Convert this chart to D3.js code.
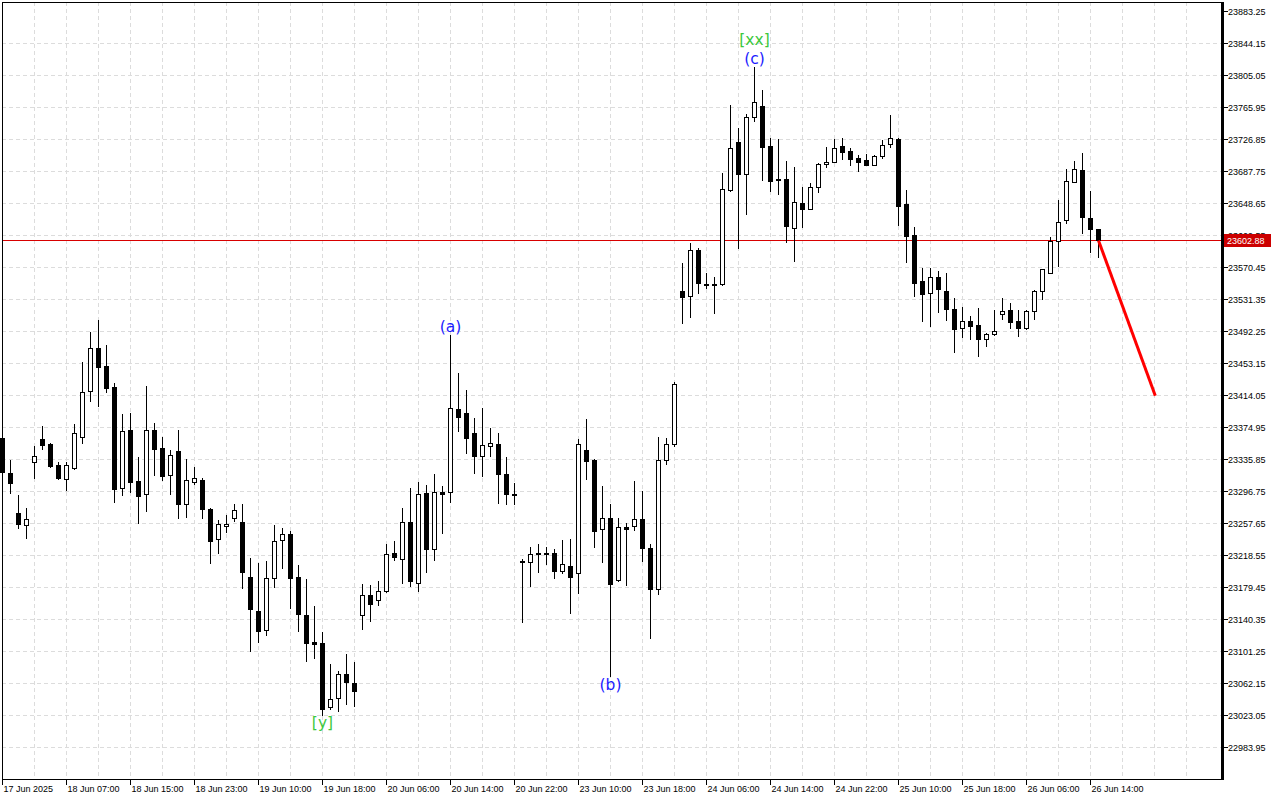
<!DOCTYPE html>
<html><head><meta charset="utf-8">
<script src="https://cdn.jsdelivr.net/npm/d3@7"></script>
<style>body{margin:0;background:#fff;} svg{display:block;}</style>
</head><body><svg id="c" width="1280" height="800"></svg>
<script>
const opens=[23361.5,23318.7,23269.9,23255.3,23332.1,23360.2,23354.2,23328.5,23311.4,23324.8,23362.7,23418.9,23471.4,23449.3,23423.8,23300.4,23371.2,23308.9,23293.0,23371.2,23349.2,23316.2,23345.6,23280.9,23307.7,23310.2,23274.8,23238.2,23254.1,23263.8,23258.9,23192.2,23150.2,23127.0,23191.0,23237.0,23244.3,23192.2,23145.3,23112.3,23111.1,23032.9,23043.9,23073.2,23062.2,23145.3,23169.7,23163.6,23174.6,23221.0,23214.2,23258.9,23184.4,23294.3,23225.3,23295.5,23295.5,23396.9,23392.0,23367.6,23339.5,23351.7,23354.2,23317.5,23293.0,23211.3,23210.0,23221.0,23221.0,23221.0,23199.1,23205.2,23196.6,23346.8,23334.6,23250.4,23263.8,23188.0,23253.0,23254.1,23262.6,23226.5,23177.0,23334.6,23354.2,23541.1,23535.0,23591.2,23549.8,23549.8,23549.8,23664.5,23723.2,23684.1,23753.7,23767.2,23718.3,23678.2,23678.2,23618.0,23648.8,23641.4,23668.3,23696.3,23698.8,23718.3,23712.2,23703.6,23701.2,23695.1,23706.1,23720.7,23726.9,23647.6,23609.5,23553.4,23538.8,23558.2,23541.1,23518.6,23496.0,23504.5,23499.6,23482.2,23488.5,23512.9,23517.3,23504.5,23496.0,23516.6,23541.1,23563.1,23602.2,23627.5,23674.3,23688.9,23630.0,23616.6];
const highs=[23365.1,23334.6,23291.8,23276.0,23351.7,23376.1,23355.4,23332.1,23332.1,23378.6,23454.3,23491.0,23505.7,23475.1,23428.7,23390.8,23392.0,23338.3,23425.0,23379.8,23362.7,23346.8,23371.2,23335.9,23326.0,23312.6,23276.0,23261.4,23267.5,23280.9,23280.9,23215.4,23208.8,23211.3,23255.3,23251.6,23248.0,23206.4,23189.3,23156.3,23124.5,23085.4,23076.9,23097.6,23087.9,23183.1,23181.9,23186.8,23232.0,23235.7,23276.0,23300.4,23307.7,23304.0,23317.5,23302.8,23487.3,23440.9,23420.1,23385.9,23398.1,23373.7,23367.6,23338.3,23306.5,23213.7,23227.8,23232.0,23227.8,23225.3,23237.0,23238.2,23360.2,23384.7,23335.9,23302.8,23280.9,23263.8,23257.7,23308.9,23296.7,23232.0,23362.7,23361.5,23429.9,23575.3,23599.8,23593.7,23563.1,23558.2,23685.3,23768.4,23740.3,23757.4,23814.8,23786.7,23728.1,23726.9,23700.0,23692.6,23668.3,23673.1,23697.6,23717.1,23726.9,23728.1,23715.8,23707.3,23708.5,23707.3,23725.6,23756.2,23727.5,23664.5,23619.3,23569.2,23569.2,23565.6,23563.1,23532.6,23521.6,23510.5,23519.8,23489.8,23517.3,23532.6,23525.9,23517.3,23517.3,23542.4,23568.5,23606.7,23652.3,23690.2,23700.0,23709.7,23663.3,23617.0];
const lows=[23304.0,23294.3,23251.6,23239.4,23312.6,23348.0,23326.0,23311.4,23297.9,23323.6,23355.4,23406.7,23400.6,23417.7,23283.4,23291.8,23295.5,23257.7,23272.4,23316.2,23310.2,23293.0,23263.8,23265.0,23305.3,23263.8,23208.8,23220.4,23246.7,23260.2,23178.2,23101.3,23112.3,23120.9,23179.4,23202.7,23153.9,23125.8,23089.1,23092.8,23023.0,23030.4,23028.0,23036.5,23034.1,23128.2,23137.9,23157.5,23173.3,23212.5,23184.4,23180.6,23174.6,23197.8,23212.5,23245.5,23283.4,23370.0,23343.3,23318.7,23315.0,23339.5,23282.1,23280.9,23280.9,23136.7,23180.6,23197.8,23207.6,23191.0,23196.6,23147.7,23172.1,23311.4,23227.8,23210.0,23070.7,23186.8,23181.9,23249.2,23211.3,23117.2,23170.9,23329.7,23351.7,23502.0,23509.3,23538.8,23544.9,23514.2,23548.5,23663.3,23593.7,23635.2,23748.8,23676.8,23663.3,23659.3,23600.9,23577.4,23619.3,23641.0,23662.0,23692.6,23698.5,23702.4,23695.1,23687.7,23694.8,23694.8,23703.6,23717.1,23621.8,23576.2,23535.0,23504.5,23498.3,23515.4,23505.7,23466.6,23484.7,23482.2,23461.4,23473.8,23487.3,23506.9,23496.0,23485.9,23494.7,23506.9,23531.4,23562.8,23571.7,23623.8,23674.0,23611.7,23588.7,23582.7];
const closes=[23319.9,23306.5,23256.5,23262.6,23339.5,23352.9,23327.3,23312.6,23328.5,23367.6,23417.7,23471.4,23448.1,23422.6,23299.2,23370.0,23307.7,23290.6,23371.2,23348.0,23315.0,23340.8,23280.9,23310.2,23312.6,23274.8,23235.7,23256.5,23256.5,23273.6,23197.8,23152.6,23125.8,23191.0,23235.7,23244.3,23191.0,23146.5,23111.1,23109.9,23030.4,23042.6,23073.2,23063.4,23052.4,23169.7,23158.7,23174.6,23219.8,23216.1,23258.9,23186.8,23293.0,23225.3,23295.5,23293.0,23398.1,23387.1,23361.5,23339.5,23352.9,23355.4,23317.5,23293.0,23293.0,23210.0,23219.8,23219.8,23221.0,23199.1,23207.6,23192.2,23354.2,23333.4,23248.0,23263.8,23183.1,23253.0,23250.4,23262.6,23226.5,23177.0,23334.6,23354.2,23427.5,23533.8,23591.2,23551.0,23549.8,23549.8,23665.8,23715.8,23684.1,23753.7,23772.1,23717.1,23675.6,23678.2,23620.5,23650.0,23641.4,23668.3,23696.3,23698.8,23715.8,23711.0,23702.4,23698.7,23695.1,23706.1,23719.5,23728.1,23645.0,23608.3,23551.0,23537.5,23558.2,23543.6,23518.6,23494.7,23504.5,23498.3,23482.2,23488.5,23492.2,23516.6,23502.7,23496.0,23516.6,23541.1,23568.0,23602.2,23625.1,23675.5,23690.2,23631.3,23616.6,23602.88];
const timeLabels=["17 Jun 2025","18 Jun 07:00","18 Jun 15:00","18 Jun 23:00","19 Jun 10:00","19 Jun 18:00","20 Jun 06:00","20 Jun 14:00","20 Jun 22:00","23 Jun 10:00","23 Jun 18:00","24 Jun 06:00","24 Jun 14:00","24 Jun 22:00","25 Jun 10:00","25 Jun 18:00","26 Jun 06:00","26 Jun 14:00"];
const timeLabelIndex=[0,8,16,24,32,40,48,56,64,72,80,88,96,104,112,120,128,136];
const priceTicks=["22983.95","23023.05","23062.15","23101.25","23140.35","23179.45","23218.55","23257.65","23296.75","23335.85","23374.95","23414.05","23453.15","23492.25","23531.35","23570.45","23609.55","23648.65","23687.75","23726.85","23765.95","23805.05","23844.15","23883.25"];
const currentPrice=23602.88;
const forecastIndex=[137,144.1];
const forecastPrice=[23602.88,23413];
const waveText=["[y]","(a)","(b)","(c)","[xx]"];
const waveIndex=[40,56,76,94,94];
const wavePrice=[23012.7,23497.1,23059.7,23824.6,23848.4];

const svg=d3.select("#c");
const L=2,R=1222,T=2,B=779;
const x=d3.scaleLinear().domain([0,152.5]).range([2,1222]);
const y=d3.scaleLinear().domain([22983.95,23883.25]).range([747,11]);
const font="'Liberation Sans', Arial, sans-serif";

// grid
const g=svg.append("g");
const vIdx=d3.range(4,152,4);
g.selectAll("line.v").data(vIdx).join("line")
  .attr("x1",d=>Math.round(x(d))+0.5).attr("x2",d=>Math.round(x(d))+0.5)
  .attr("y1",T).attr("y2",B)
  .attr("stroke","#dcdcdc").attr("stroke-dasharray","4,3");
g.selectAll("line.h").data(priceTicks.slice(0,-1)).join("line")
  .attr("x1",L).attr("x2",R)
  .attr("y1",d=>Math.round(y(+d))+0.5).attr("y2",d=>Math.round(y(+d))+0.5)
  .attr("stroke","#dcdcdc").attr("stroke-dasharray","4,3");

// current price line
svg.append("line").attr("x1",L).attr("x2",R)
  .attr("y1",Math.round(y(currentPrice))+0.5).attr("y2",Math.round(y(currentPrice))+0.5)
  .attr("stroke","#d80000").attr("stroke-width",1);

// candles
const data=opens.map((o,i)=>({i,o,h:highs[i],l:lows[i],c:closes[i]}));
const cg=svg.append("g");
data.forEach(d=>{
  const cx=Math.round(x(d.i))+0.5;
  cg.append("line").attr("x1",cx).attr("x2",cx)
    .attr("y1",Math.round(y(d.h))).attr("y2",Math.round(y(d.l))+1)
    .attr("stroke","#000").attr("stroke-width",1);
  const yo=Math.round(y(d.o)), yc=Math.round(y(d.c));
  const top=Math.min(yo,yc), bot=Math.max(yo,yc);
  if(bot-top<1){
    cg.append("rect").attr("x",cx-2.5).attr("y",top).attr("width",5).attr("height",2).attr("fill","#000");
  } else if(d.c<d.o){
    cg.append("rect").attr("x",cx-2.5).attr("y",top).attr("width",5).attr("height",bot-top+1).attr("fill","#000");
  } else {
    cg.append("rect").attr("x",cx-2).attr("y",top+0.5).attr("width",4).attr("height",bot-top)
      .attr("fill","#fff").attr("stroke","#000").attr("stroke-width",1);
  }
});

// forecast line
svg.append("line")
  .attr("x1",x(forecastIndex[0])+0.5).attr("y1",y(forecastPrice[0]))
  .attr("x2",x(forecastIndex[1])+0.5).attr("y2",y(forecastPrice[1]))
  .attr("stroke","#ff0000").attr("stroke-width",3);

// wave labels
svg.selectAll("text.w").data(waveText).join("text")
  .attr("x",(d,i)=>x(waveIndex[i])+0.5).attr("y",(d,i)=>y(wavePrice[i]))
  .attr("text-anchor","middle").attr("dominant-baseline","central")
  .attr("font-family","'DejaVu Sans', sans-serif").attr("font-size",15.5)
  .attr("fill",d=>d.startsWith("[")?"#3cc83c":"#1c1cff")
  .text(d=>d);

// frame
svg.append("line").attr("x1",L).attr("x2",R).attr("y1",T+0.5).attr("y2",T+0.5).attr("stroke","#000");
svg.append("line").attr("x1",L+0.5).attr("x2",L+0.5).attr("y1",T).attr("y2",B).attr("stroke","#000");
svg.append("line").attr("x1",L).attr("x2",R).attr("y1",B+0.5).attr("y2",B+0.5).attr("stroke","#000");
svg.append("line").attr("x1",R+0.5).attr("x2",R+0.5).attr("y1",T).attr("y2",B+1).attr("stroke","#000").attr("stroke-width",3);

// y axis ticks and labels
const ya=svg.append("g");
priceTicks.forEach(t=>{
  const yy=Math.round(y(+t))+0.5;
  ya.append("line").attr("x1",R+2).attr("x2",R+6).attr("y1",yy).attr("y2",yy).attr("stroke","#000");
  ya.append("text").attr("x",R+6).attr("y",yy).attr("dominant-baseline","central")
    .attr("font-family",font).attr("font-size",9).attr("fill","#000").text(t);
});
// current price box
const cy=Math.round(y(currentPrice))+0.5;
ya.append("rect").attr("x",R+2).attr("y",cy-6.5).attr("width",47).attr("height",13).attr("fill","#cc0000");
ya.append("text").attr("x",R+5).attr("y",cy).attr("dominant-baseline","central")
  .attr("font-family",font).attr("font-size",9).attr("fill","#fff").text(currentPrice.toFixed(2));

// x axis ticks and labels
const xa=svg.append("g");
timeLabels.forEach((t,k)=>{
  const xx=Math.round(x(timeLabelIndex[k]))+0.5;
  xa.append("line").attr("x1",xx).attr("x2",xx).attr("y1",B).attr("y2",B+6).attr("stroke","#000");
  xa.append("text").attr("x",xx+1).attr("y",B+10).attr("dominant-baseline","central")
    .attr("font-family",font).attr("font-size",9).attr("fill","#000").text(t);
});
</script></body></html>
